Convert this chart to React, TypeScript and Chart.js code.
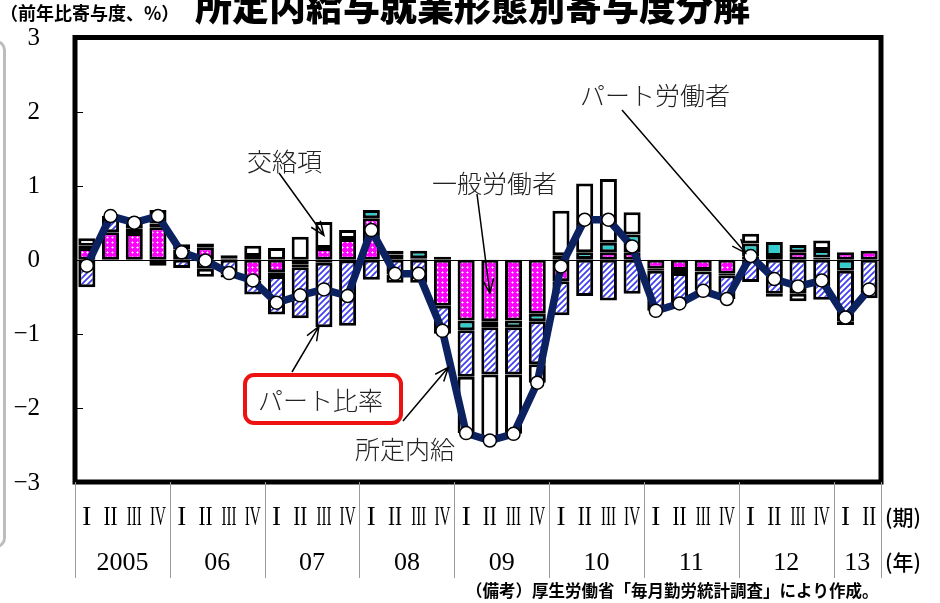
import React, { useEffect, useRef } from "react";
import { Chart, registerables } from "chart.js";

Chart.register(...registerables);

// Year groups and quarter names along the bottom
const years = ["2005", "06", "07", "08", "09", "10", "11", "12", "13"];
const quartersPerYear = [4, 4, 4, 4, 4, 4, 4, 4, 2];
const quarterNames = ["I", "II", "III", "IV"];
const yTicks = [3, 2, 1, 0, -1, -2, -3];

// Contributions (percentage points, y/y) by component, 2005 I – 2013 II
const general = [
  0.16, 0.37, 0.36, 0.44, 0.14, 0.17, 0.02, -0.28, -0.17, -0.06, 0.16, 0.28,
  0.56, 0.07, 0.02, -0.62, -0.82, -0.83, -0.82, -0.73, -0.29, 0.01, 0.1, 0.1,
  -0.12, -0.14, -0.14, -0.19, 0.04, 0.05, 0.1, 0.03, 0.1, 0.12,
];
const partWorkers = [
  0.03, 0, 0.06, 0.05, 0.07, 0.05, 0.04, 0.05, -0.05, -0.04, -0.04, -0.01,
  0.11, 0.05, 0.1, 0.04, -0.13, -0.08, -0.09, -0.1, 0.06, 0.09, 0.13, 0.24,
  -0.03, -0.04, -0.02, -0.02, 0.18, 0.19, 0.1, 0.1, -0.15, 0,
];
const partRatio = [
  -0.37, 0.22, 0.08, 0.18, -0.11, -0.12, -0.2, -0.19, -0.52, -0.69, -0.87, -0.88,
  -0.27, -0.2, -0.31, -0.38, -0.63, -0.64, -0.64, -0.58, -0.46, -0.49, -0.55, -0.46,
  -0.54, -0.41, -0.26, -0.32, -0.3, -0.46, -0.46, -0.54, -0.68, -0.52,
];
const crossTerm = [
  0.1, 0, 0, -0.08, 0, -0.11, -0.04, 0.14, 0.16, 0.31, 0.35, 0.12,
  0, -0.11, 0, 0, -0.76, -0.89, -0.8, -0.25, 0.6, 0.93, 0.86, 0.3,
  0, 0, 0, 0, 0.13, -0.04, -0.1, 0.13, -0.05, 0,
];
const scheduledWage = [
  -0.08, 0.59, 0.5, 0.59, 0.1, -0.01, -0.18, -0.28, -0.58, -0.48, -0.4, -0.49,
  0.4, -0.19, -0.19, -0.96, -2.34, -2.44, -2.35, -1.66, -0.09, 0.54, 0.54, 0.18,
  -0.69, -0.59, -0.42, -0.53, 0.05, -0.26, -0.36, -0.28, -0.78, -0.4,
];

const labels: string[] = [];
years.forEach((y, yi) => {
  for (let q = 0; q < quartersPerYear[yi]; q++) labels.push(`${y}-${quarterNames[q]}`);
});

const JP = "'Noto Sans CJK JP', 'Noto Sans', sans-serif";
const SERIF = "'Liberation Serif', 'DejaVu Serif', serif";

function hatchPattern(ctx: CanvasRenderingContext2D) {
  const c = document.createElement("canvas");
  c.width = 6;
  c.height = 6;
  const g = c.getContext("2d")!;
  g.fillStyle = "#ffffff";
  g.fillRect(0, 0, 6, 6);
  g.strokeStyle = "#3d3df2";
  g.lineWidth = 1.7;
  g.beginPath();
  g.moveTo(-1, 7);
  g.lineTo(7, -1);
  g.moveTo(-1, 1);
  g.lineTo(1, -1);
  g.moveTo(5, 7);
  g.lineTo(7, 5);
  g.stroke();
  return ctx.createPattern(c, "repeat")!;
}

function dottedMagenta(ctx: CanvasRenderingContext2D) {
  const c = document.createElement("canvas");
  c.width = 5;
  c.height = 5;
  const g = c.getContext("2d")!;
  g.fillStyle = "#ff00ff";
  g.fillRect(0, 0, 5, 5);
  g.fillStyle = "#ff8cff";
  g.fillRect(1, 2, 1, 1);
  g.fillRect(3, 2, 1, 1);
  g.fillRect(2, 1, 1, 1);
  g.fillRect(2, 3, 1, 1);
  g.fillStyle = "#ffffff";
  g.fillRect(2, 2, 1, 1);
  return ctx.createPattern(c, "repeat")!;
}

function arrow(ctx: CanvasRenderingContext2D, x1: number, y1: number, x2: number, y2: number) {
  const a = Math.atan2(y2 - y1, x2 - x1);
  const len = 15;
  const spread = 0.38;
  ctx.beginPath();
  ctx.moveTo(x1, y1);
  ctx.lineTo(x2, y2);
  ctx.moveTo(x2 - len * Math.cos(a - spread), y2 - len * Math.sin(a - spread));
  ctx.lineTo(x2, y2);
  ctx.lineTo(x2 - len * Math.cos(a + spread), y2 - len * Math.sin(a + spread));
  ctx.stroke();
}

const decorations = {
  id: "decorations",
  beforeDatasetsDraw(chart: any) {
    const { ctx, chartArea, scales } = chart;
    const y0 = scales.y.getPixelForValue(0);
    ctx.save();
    ctx.strokeStyle = "#000";
    ctx.lineWidth = 1;
    ctx.beginPath();
    ctx.moveTo(chartArea.left, Math.round(y0) + 0.5);
    ctx.lineTo(chartArea.right, Math.round(y0) + 0.5);
    ctx.stroke();
    ctx.restore();
  },
  afterDraw(chart: any) {
    const { ctx, chartArea, scales } = chart;
    const xs = scales.x;
    const ys = scales.y;
    const { left, right, top, bottom } = chartArea;
    ctx.save();

    // frame
    ctx.strokeStyle = "#000";
    ctx.lineWidth = 5;
    ctx.strokeRect(left, top, right - left, bottom - top);

    // inward ticks and y labels
    ctx.lineWidth = 1;
    ctx.fillStyle = "#000";
    ctx.font = `25px ${SERIF}`;
    ctx.textAlign = "right";
    ctx.textBaseline = "middle";
    yTicks.forEach((v) => {
      const py = ys.getPixelForValue(v);
      if (v > -3 && v < 3) {
        ctx.beginPath();
        ctx.moveTo(left, Math.round(py) + 0.5);
        ctx.lineTo(left + 8, Math.round(py) + 0.5);
        ctx.stroke();
      }
      ctx.fillText(v < 0 ? `\u2212${-v}` : `${v}`, 40, py + 1);
    });

    // category table below the plot
    const n = labels.length;
    const step = (right - left) / n;
    ctx.strokeStyle = "#9a9a9a";
    ctx.lineWidth = 1;
    let idx = 0;
    const bounds: number[] = [left];
    years.forEach((y, yi) => {
      const first = idx;
      const last = idx + quartersPerYear[yi] - 1;
      const bx = xs.getPixelForValue(last) + step / 2;
      bounds.push(bx);
      ctx.fillStyle = "#000";
      ctx.textAlign = "center";
      ctx.textBaseline = "middle";
      ctx.font = `26px ${SERIF}`;
      const cx = (xs.getPixelForValue(first) + xs.getPixelForValue(last)) / 2;
      ctx.fillText(y, cx, 563);
      ctx.font = `28px ${SERIF}`;
      for (let q = 0; q < quartersPerYear[yi]; q++) {
        const name = quarterNames[q];
        const maxW = [9, 14, 15, 16][q];
        ctx.fillText(name, xs.getPixelForValue(idx + q), 518, maxW);
      }
      idx += quartersPerYear[yi];
    });
    bounds.forEach((bx) => {
      ctx.beginPath();
      ctx.moveTo(Math.round(bx) + 0.5, bottom);
      ctx.lineTo(Math.round(bx) + 0.5, 578);
      ctx.stroke();
    });

    ctx.font = `500 21px ${JP}`;
    ctx.textAlign = "left";
    ctx.fillText("(期)", 885, 517);
    ctx.fillText("(年)", 885, 562);

    // source note
    ctx.font = `600 16.5px ${JP}`;
    ctx.textBaseline = "alphabetic";
    ctx.fillText("（備考）厚生労働省「毎月勤労統計調査」により作成。", 466, 597);

    // unit label and title
    ctx.font = `600 18px ${JP}`;
    ctx.fillText("（前年比寄与度、%）", 0, 20);
    ctx.font = `900 37px ${JP}`;
    ctx.fillText("所定内給与就業形態別寄与度分解", 195, 21);

    // annotations
    ctx.font = `300 25px ${JP}`;
    ctx.fillStyle = "#222";
    ctx.textBaseline = "middle";
    ctx.fillText("交絡項", 247, 161);
    ctx.fillText("一般労働者", 432, 183);
    ctx.fillText("パート労働者", 580, 95);
    ctx.fillText("所定内給", 355, 449);

    // red box label
    const bx0 = 245, by0 = 375, bw = 156, bh = 48, r = 9;
    ctx.beginPath();
    ctx.roundRect(bx0, by0, bw, bh, r);
    ctx.fillStyle = "#fff";
    ctx.fill();
    ctx.strokeStyle = "#ee1111";
    ctx.lineWidth = 4;
    ctx.stroke();
    ctx.fillStyle = "#222";
    ctx.fillText("パート比率", 258, 400);

    ctx.strokeStyle = "#000";
    ctx.lineWidth = 1.5;
    arrow(ctx, 279, 173, xs.getPixelForValue(10), ys.getPixelForValue(0.33));
    arrow(ctx, 477, 194, xs.getPixelForValue(17), ys.getPixelForValue(-0.45));
    arrow(ctx, 622, 110, xs.getPixelForValue(28) - 5, ys.getPixelForValue(0.09));
    arrow(ctx, 292, 372, xs.getPixelForValue(10) - 5, ys.getPixelForValue(-0.9));
    arrow(ctx, 403, 421, xs.getPixelForValue(15) + 6, ys.getPixelForValue(-1.45));

    ctx.restore();
  },
};

export default function App() {
  const ref = useRef<HTMLCanvasElement | null>(null);

  useEffect(() => {
    const canvas = ref.current!;
    const ctx = canvas.getContext("2d")!;
    const nz = (arr: number[]) => arr.map((v) => (v === 0 ? null : v));
    const barBase = {
      type: "bar" as const,
      stack: "parts",
      borderColor: "#000",
      borderWidth: 3,
      borderSkipped: false as const,
      barPercentage: 0.72,
      categoryPercentage: 1,
      order: 1,
    };
    const chart = new Chart(ctx, {
      data: {
        labels,
        datasets: [
          { ...barBase, label: "一般労働者", data: nz(general), backgroundColor: dottedMagenta(ctx) },
          { ...barBase, label: "パート労働者", data: nz(partWorkers), backgroundColor: "#33cccc" },
          { ...barBase, label: "パート比率", data: nz(partRatio), backgroundColor: hatchPattern(ctx) },
          { ...barBase, label: "交絡項", data: nz(crossTerm), backgroundColor: "#ffffff" },
          {
            type: "line" as const,
            label: "所定内給",
            stack: "total",
            data: scheduledWage,
            borderColor: "#0c2160",
            borderWidth: 7.5,
            tension: 0,
            pointRadius: 6.5,
            pointBorderWidth: 1.5,
            pointBackgroundColor: "#ffffff",
            pointBorderColor: "#000000",
            order: 0,
          },
        ] as any,
      },
      options: {
        animation: false,
        responsive: false,
        maintainAspectRatio: false,
        layout: { padding: { left: 75, top: 37.5, right: 59, bottom: 121 } },
        plugins: { legend: { display: false }, tooltip: { enabled: false } },
        scales: {
          x: { display: false, stacked: true, offset: true },
          y: { display: false, stacked: true, min: -3, max: 3 },
        },
      },
      plugins: [decorations],
    });
    return () => chart.destroy();
  }, []);

  return (
    <div style={{ position: "absolute", left: 0, top: 0, width: 940, height: 603, background: "#fff", overflow: "hidden" }}>
      <div
        style={{
          position: "absolute",
          left: -22,
          top: 40,
          width: 28,
          height: 508,
          boxSizing: "border-box",
          border: "3px solid #bdbdbd",
          borderRadius: 10,
        }}
      />
      <canvas ref={ref} width={940} height={603} style={{ position: "absolute", left: 0, top: 0, display: "block" }} />
    </div>
  );
}
